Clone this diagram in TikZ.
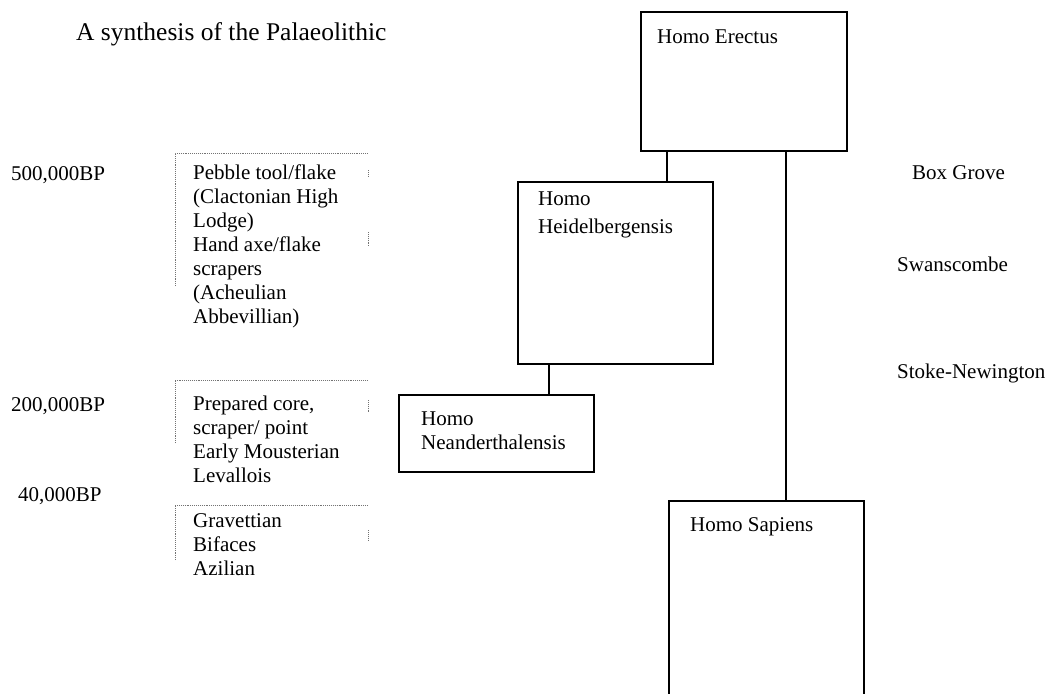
\documentclass[tikz,border=0pt]{standalone}
\usepackage{fontspec}
\setmainfont{Liberation Serif}
\begin{document}
\begin{tikzpicture}[x=1pt,y=-1pt,
  box/.style={draw=black,line width=1.6pt,inner sep=0pt,outer sep=0pt},
  lbl/.style={anchor=base west,inner sep=0pt,font=\fontsize{21}{24}\selectfont},
  multi/.style={lbl,align=left,anchor=north west},
  link/.style={line width=1.6pt,black},
  faint/.style={draw=black!55,line width=0.9pt,densely dotted}]
\useasboundingbox (0,0) rectangle (1051,693);
% title
\node[lbl,font=\fontsize{25.5}{29}\selectfont] (title) at (76,41) {A synthesis of the Palaeolithic};
% dates
\node[lbl] (d500) at (11,180) {500,000BP};
\node[lbl] (d200) at (11,411) {200,000BP};
\node[lbl] (d40) at (18,501) {40,000BP};
% tool text boxes
\node[multi] (t1) at (193,165) {Pebble tool/flake\\(Clactonian High\\Lodge)\\Hand axe/flake\\scrapers\\(Acheulian\\Abbevillian)};
\node[multi] (t2) at (193,396) {Prepared core,\\scraper/ point\\Early Mousterian\\Levallois};
\node[multi] (t3) at (193,513) {Gravettian\\Bifaces\\Azilian};
\draw[faint] (175,286) -- (175,153) -- (368,153);
\draw[faint] (368,170) -- (368,176) (368,232) -- (368,246);
\draw[faint] (175,443) -- (175,380) -- (368,380);
\draw[faint] (368,400) -- (368,412);
\draw[faint] (175,560) -- (175,505) -- (368,505);
\draw[faint] (368,530) -- (368,540);
% sites
\node[lbl] (bg) at (912,179) {Box Grove};
\node[lbl] (sw) at (897,271) {Swanscombe};
\node[lbl] (sn) at (897,378) {Stoke-Newington};
% hominid boxes
\node[box,minimum width=206pt,minimum height=139pt] (E) at (744,81.5) {};
\node[box,minimum width=195pt,minimum height=182pt] (H) at (615.5,273) {};
\node[box,minimum width=195pt,minimum height=77pt] (N) at (496.5,433.5) {};
\node[inner sep=0pt,outer sep=0pt,minimum width=195pt,minimum height=200pt] (S) at (766.5,601) {};
\draw[link] (S.south west) -- (S.north west) -- (S.north east) -- (S.south east);
\node[lbl] (Et) at (657,44) {Homo Erectus};
\node[lbl,align=left,anchor=north west,font=\fontsize{21}{28}\selectfont] (Ht) at (538,192) {Homo\\Heidelbergensis};
\node[lbl,align=left,anchor=north west] (Nt) at (421,412) {Homo\\Neanderthalensis};
\node[lbl] (St) at (690,531) {Homo Sapiens};
% connectors
\path (E.south west) ++(26,0) coordinate (e1);
\path (E.south west) ++(145,0) coordinate (e2);
\path (H.south west) ++(31,0) coordinate (h1);
\draw[link] (e1) -- (e1 |- H.north);
\draw[link] (e2) -- (e2 |- S.north);
\draw[link] (h1) -- (h1 |- N.north);
\end{tikzpicture}
\end{document}
